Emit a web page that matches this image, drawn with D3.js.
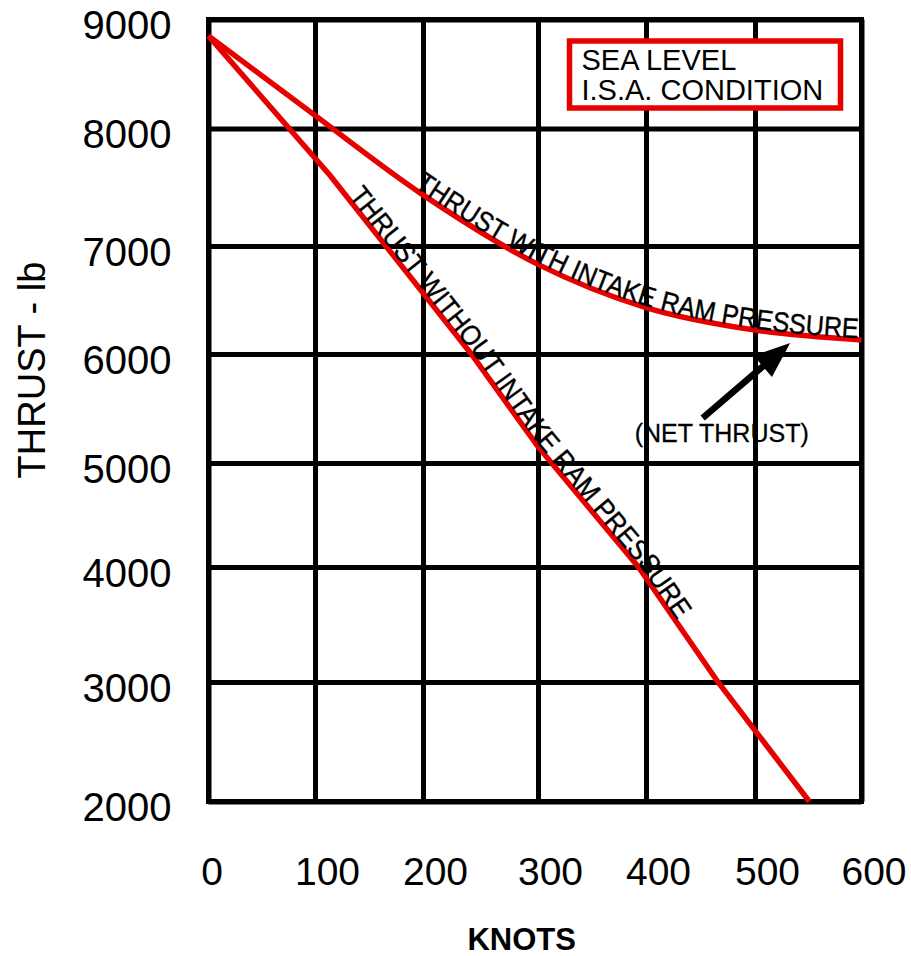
<!DOCTYPE html>
<html><head><meta charset="utf-8">
<script src="https://cdn.jsdelivr.net/npm/d3@7"></script>
<style>
body{margin:0;background:#fff}
svg{display:block}
text{font-family:"Liberation Sans",Arial,Helvetica,sans-serif}
</style>
</head><body>
<svg id="chart" width="911" height="956"></svg>
<script>
// ---- data ----
const knotTicks = [0, 100, 200, 300, 400, 500, 600];
const thrustTicks = [9000, 8000, 7000, 6000, 5000, 4000, 3000, 2000];
const withRamKnots = [0, 100, 200, 300, 400, 500, 600];
const withRamThrust = [8850, 8120, 7435, 6830, 6430, 6222, 6130];
const withoutRamKnots = [0, 114, 242, 300, 393, 466, 551];
const withoutRamThrust = [8850, 7600, 6000, 5150, 4000, 3000, 2000];
const arrowKnots = [452, 533];
const arrowThrust = [5413, 6102];
const xTitle = "KNOTS";
const yTitle = "THRUST - lb";
const boxLines = ["SEA LEVEL", "I.S.A. CONDITION"];
const withLabel = "THRUST WITH INTAKE RAM PRESSURE";
const withoutLabel = "THRUST WITHOUT INTAKE RAM PRESSURE";
const netLabel = "(NET THRUST)";

// ---- layout ----
const X_POS = [208.5, 315, 423, 538, 646, 755, 861.5];
const Y_POS = [19.5, 128.5, 246, 354, 463, 567, 682, 801.5];
const RED = "#e60000";
const GRID_W = 5;

const svg = d3.select("#chart");
const x = d3.scaleLinear().domain(knotTicks).range(X_POS);
const y = d3.scaleLinear().domain(thrustTicks).range(Y_POS);
const pLeft = X_POS[0], pRight = X_POS[X_POS.length - 1];
const pTop = Y_POS[0], pBottom = Y_POS[Y_POS.length - 1];

// x axis + vertical grid
const gx = svg.append("g")
  .attr("transform", `translate(0,${pBottom})`)
  .call(d3.axisBottom(x).tickValues(knotTicks).tickSize(-(pBottom - pTop))
    .tickSizeOuter(0).tickPadding(56).tickFormat(d3.format("d")));
gx.select(".domain").remove();
gx.selectAll(".tick line").attr("stroke", "#000").attr("stroke-width", GRID_W);
gx.selectAll(".tick text").attr("fill", "#000").attr("font-size", 39)
  .attr("font-family", '"Liberation Sans",Arial,sans-serif')
  .attr("dx", d => d === 0 ? 3 : 12);

// y axis + horizontal grid
const gy = svg.append("g")
  .attr("transform", `translate(${pLeft},0)`)
  .call(d3.axisLeft(y).tickValues(thrustTicks).tickSize(-(pRight - pLeft))
    .tickSizeOuter(0).tickPadding(37).tickFormat(d3.format("d")));
gy.select(".domain").remove();
gy.selectAll(".tick line").attr("stroke", "#000").attr("stroke-width", GRID_W);
gy.selectAll(".tick text").attr("fill", "#000").attr("font-size", 40)
  .attr("font-family", '"Liberation Sans",Arial,sans-serif').attr("dy", "0.48em");

// frame
svg.append("rect").attr("x", pLeft).attr("y", pTop)
  .attr("width", pRight - pLeft).attr("height", pBottom - pTop)
  .attr("fill", "none").attr("stroke", "#000").attr("stroke-width", GRID_W);

// curves
const withData = withRamKnots.map((k, i) => [k, withRamThrust[i]]);
const withoutData = withoutRamKnots.map((k, i) => [k, withoutRamThrust[i]]);
const lineCurve = d3.line().x(d => x(d[0])).y(d => y(d[1])).curve(d3.curveMonotoneX);
const lineStraight = d3.line().x(d => x(d[0])).y(d => y(d[1]));

const pWith = svg.append("path").attr("id", "pWith").attr("d", lineCurve(withData))
  .attr("fill", "none").attr("stroke", RED).attr("stroke-width", 5.5);
const pWithout = svg.append("path").attr("id", "pWithout").attr("d", lineStraight(withoutData))
  .attr("fill", "none").attr("stroke", RED).attr("stroke-width", 5.5);

function lengthAtX(node, px) {
  let lo = 0, hi = node.getTotalLength();
  for (let i = 0; i < 40; i++) {
    const mid = (lo + hi) / 2;
    if (node.getPointAtLength(mid).x < px) lo = mid; else hi = mid;
  }
  return (lo + hi) / 2;
}
function pathLabel(pathSel, id, txt, x0, x1) {
  const node = pathSel.node();
  const s = lengthAtX(node, x0), e = lengthAtX(node, x1);
  svg.append("text").attr("font-size", 28).attr("fill", "#000").attr("dy", -1.5)
    .attr("stroke", "#000").attr("stroke-width", 0.4)
    .append("textPath").attr("href", "#" + id)
    .attr("startOffset", s).attr("textLength", e - s)
    .attr("lengthAdjust", "spacingAndGlyphs").text(txt);
}
pathLabel(pWith, "pWith", withLabel, 413, 858);
pathLabel(pWithout, "pWithout", withoutLabel, 347, 676);

// arrow
const ax0 = x(arrowKnots[0]), ay0 = y(arrowThrust[0]);
const ax1 = x(arrowKnots[1]), ay1 = y(arrowThrust[1]);
const dxA = ax1 - ax0, dyA = ay1 - ay0, lenA = Math.hypot(dxA, dyA);
const ux = dxA / lenA, uy = dyA / lenA;
const headLen = 36, headHalf = 14;
const bx = ax1 - ux * headLen, by = ay1 - uy * headLen;
svg.append("line").attr("x1", ax0).attr("y1", ay0).attr("x2", bx + ux * 4).attr("y2", by + uy * 4)
  .attr("stroke", "#000").attr("stroke-width", 6.5);
svg.append("polygon")
  .attr("points", [[ax1, ay1], [bx - uy * headHalf, by + ux * headHalf], [bx + uy * headHalf, by - ux * headHalf]].map(p => p.join(",")).join(" "))
  .attr("fill", "#000");
svg.append("text").attr("x", 721.7).attr("y", 442).attr("text-anchor", "middle")
  .attr("font-size", 25).attr("fill", "#000").attr("stroke", "#000").attr("stroke-width", 0.3)
  .text(netLabel);

// condition box
svg.append("rect").attr("x", 569.5).attr("y", 41).attr("width", 271).attr("height", 67)
  .attr("fill", "#fff").attr("stroke", RED).attr("stroke-width", 5.5);
svg.append("text").attr("x", 581.5).attr("y", 70).attr("font-size", 29).attr("fill", "#000").text(boxLines[0]);
svg.append("text").attr("x", 581.5).attr("y", 100).attr("font-size", 29).attr("fill", "#000").text(boxLines[1]);

// axis titles
svg.append("text").attr("x", 521.7).attr("y", 950).attr("text-anchor", "middle")
  .attr("font-size", 31).attr("font-weight", "bold").attr("fill", "#000").text(xTitle);
svg.append("text").attr("transform", "translate(45,370) rotate(-90)").attr("text-anchor", "middle")
  .attr("font-size", 38).attr("fill", "#000").text(yTitle);
</script>
</body></html>
